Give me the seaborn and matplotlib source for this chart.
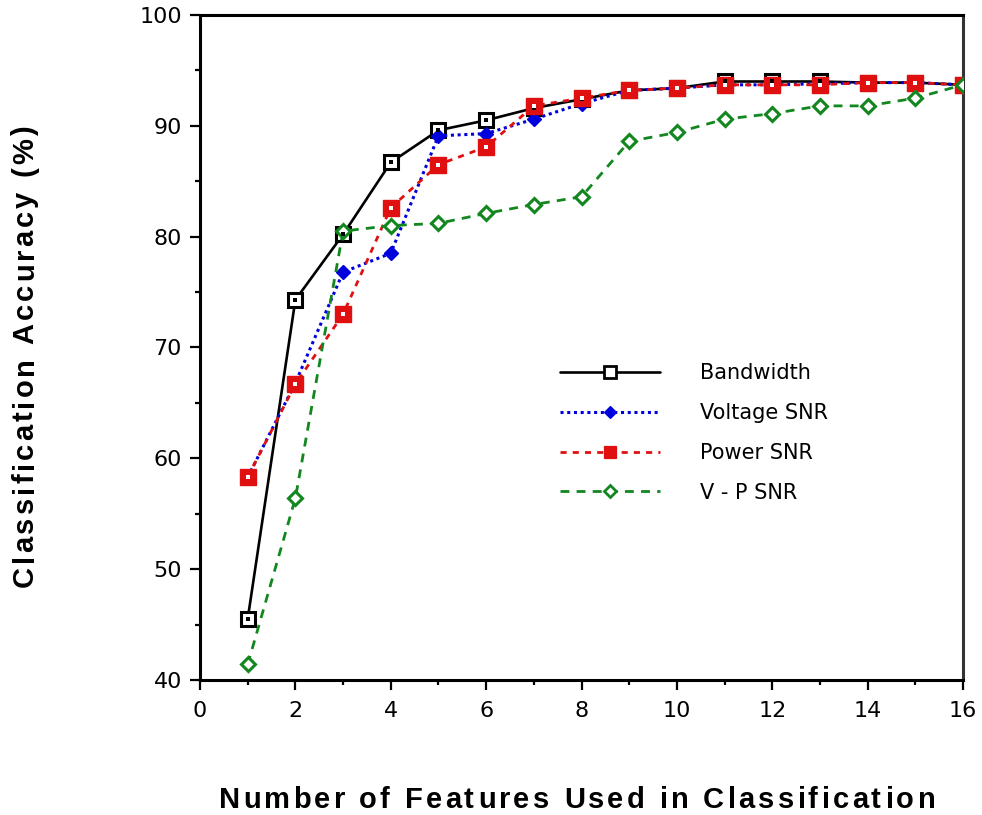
import matplotlib
matplotlib.use("Agg")
import matplotlib.pyplot as plt
from matplotlib.ticker import MultipleLocator
from matplotlib.font_manager import FontProperties, findfont
from matplotlib.ft2font import FT2Font
import numpy as np
import seaborn as sns
import pandas as pd

features = list(range(1, 17))
bandwidth = [45.5, 74.3, 80.2, 86.7, 89.6, 90.5, 91.6, 92.4, 93.2, 93.4, 94.0, 94.0, 94.0, 93.9, 93.9, 93.7]
voltage_snr = [58.3, 66.8, 76.8, 78.5, 89.1, 89.3, 90.6, 92.0, 93.2, 93.4, 93.7, 93.7, 93.8, 93.9, 93.9, 93.7]
power_snr = [58.3, 66.7, 73.0, 82.6, 86.5, 88.1, 91.8, 92.5, 93.2, 93.4, 93.7, 93.7, 93.7, 93.9, 93.9, 93.7]
vp_snr = [41.4, 56.4, 80.5, 81.0, 81.2, 82.1, 82.9, 83.6, 88.6, 89.4, 90.6, 91.1, 91.8, 91.8, 92.5, 93.7]

series_names = ["Bandwidth", "Voltage SNR", "Power SNR", "V - P SNR"]
x_title = "Number of Features Used in Classification"
y_title = "Classification Accuracy (%)"

df = pd.DataFrame({
    "features": features * 4,
    "accuracy": bandwidth + voltage_snr + power_snr + vp_snr,
    "series": sum([[n] * len(features) for n in series_names], []),
})

sns.set_theme(style="white")
plt.rcParams["font.family"] = ["DejaVu Sans"]
plt.rcParams["text.color"] = "black"
plt.rcParams["xtick.color"] = "black"
plt.rcParams["ytick.color"] = "black"

DPI = 100
W, H = 982, 815
fig = plt.figure(figsize=(W / DPI, H / DPI), dpi=DPI)
ax = fig.add_axes([200 / W, 1 - 680 / H, 763 / W, 665 / H])

styles = {
    "Bandwidth": dict(color="black", ls="-", lw=1.9, marker="s", ms=9.5,
                      mfc="white", mec="black", mew=2.2, dot="black"),
    "Voltage SNR": dict(color="#0000dd", ls=(0, (1, 1.2)), lw=2.2, marker="D", ms=7.3,
                        mfc="#0000dd", mec="#0000dd", mew=1, dot=None),
    "Power SNR": dict(color="#e01010", ls=(0, (2.2, 2.2)), lw=2.0, marker="s", ms=11,
                      mfc="#e01010", mec="#e01010", mew=1, dot="white"),
    "V - P SNR": dict(color="#13871f", ls=(0, (3.2, 2.6)), lw=2.0, marker="D", ms=6.8,
                      mfc="white", mec="#13871f", mew=2.2, dot=None),
}

handles = []
for name in series_names:
    st = styles[name]
    sub = df[df["series"] == name]
    sns.lineplot(data=sub, x="features", y="accuracy", ax=ax, color=st["color"],
                 linestyle=st["ls"], lw=st["lw"], marker=st["marker"], markersize=st["ms"],
                 markerfacecolor=st["mfc"], markeredgecolor=st["mec"], markeredgewidth=st["mew"],
                 legend=False, zorder=3)
    if st["dot"] is not None:
        ax.plot(sub["features"], sub["accuracy"], ls="none", marker="s", ms=2.6,
                mfc=st["dot"], mec=st["dot"], mew=0, zorder=4)
    h, = ax.plot([], [], color=st["color"], ls=st["ls"], lw=st["lw"], marker=st["marker"],
                 ms=st["ms"] * 0.85, mfc=st["mfc"], mec=st["mec"], mew=st["mew"] * 0.9)
    handles.append(h)

ax.set_xlim(0, 16)
ax.set_ylim(40, 100)
ax.xaxis.set_major_locator(MultipleLocator(2))
ax.xaxis.set_minor_locator(MultipleLocator(1))
ax.yaxis.set_major_locator(MultipleLocator(10))
ax.yaxis.set_minor_locator(MultipleLocator(5))
ax.tick_params(axis="both", which="major", direction="out", length=7, width=1.6,
               labelsize=16, color="black", labelcolor="black", bottom=True, left=True)
ax.tick_params(axis="x", which="major", pad=8)
ax.tick_params(axis="y", which="major", pad=6)
ax.tick_params(axis="both", which="minor", direction="out", length=3.5, width=1.6,
               color="black", bottom=True, left=True)
for side in ["left", "bottom", "top", "right"]:
    ax.spines[side].set_visible(True)
    ax.spines[side].set_color("black")
    ax.spines[side].set_linewidth(2.2)
ax.spines["right"].set_color("#333333")

ax.set_xlabel("")
ax.set_ylabel("")


def tracked_title(text, start, baseline, span, size_pt, vertical=False):
    """Bold title set letter by letter with even letter spacing over `span` pixels.

    `start` is the left end (bottom end when vertical) and `baseline` the
    baseline position, both in pixels from the figure's top-left corner.
    """
    fp = FontProperties(family="Liberation Sans", weight="bold", size=size_pt)
    font = FT2Font(findfont(fp))
    font.set_size(size_pt, DPI)
    glyphs = [font.load_char(ord(ch)) for ch in text]
    adv = np.array([g.linearHoriAdvance / 65536.0 for g in glyphs])
    bear = np.array([g.horiBearingX / 64.0 for g in glyphs])
    last = glyphs[-1]
    natural = adv[:-1].sum() + (last.horiBearingX + last.width) / 64.0
    tracking = (span - natural) / (len(text) - 1)
    pos = np.concatenate([[0.0], np.cumsum(adv[:-1] + tracking)]) + bear
    for ch, p in zip(text, pos):
        if ch == " ":
            continue
        if vertical:
            fig.text(baseline / W, 1 - (start - p) / H, ch, rotation=90,
                     rotation_mode="anchor", ha="left", va="baseline",
                     fontproperties=fp)
        else:
            fig.text((start + p) / W, 1 - baseline / H, ch, ha="left",
                     va="baseline", fontproperties=fp)


tracked_title(x_title, 217, 808, 715, 21)
tracked_title(y_title, 588, 33, 460, 21, vertical=True)

leg = ax.legend(handles, series_names, loc="upper left",
                bbox_to_anchor=(352 / 763, 1 - 340 / 665), frameon=False,
                fontsize=15, handlelength=4.8, handletextpad=1.9, labelspacing=0.95,
                borderaxespad=0)

fig.savefig("out.png", dpi=DPI)
